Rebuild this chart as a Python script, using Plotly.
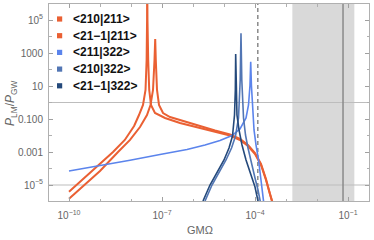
import plotly.graph_objects as go

# ---- data ----
omega_210_211 = [1.0e-10, 3.16e-10, 1.0e-9, 2.63e-9, 6.31e-9, 1.26e-8, 1.81e-8, 2.44e-8, 2.94e-8,
                 3.19e-8, 3.30e-8, 3.32e-8, 3.40e-8, 3.59e-8, 3.87e-8, 4.41e-8, 5.94e-8, 1.25e-7,
                 3.81e-7, 1.68e-6, 5.13e-6, 1.56e-5, 3.28e-5, 5.94e-5, 1.0e-4, 1.56e-4, 2.26e-4,
                 3.05e-4, 3.81e-4]
ratio_210_211 = [3.89e-6, 2.75e-5, 1.91e-4, 1.0e-3, 5.37e-3, 3.8e-2, 0.174, 0.708, 5.73,
                 377, 1.0e5, 1.0e8, 1.0e5, 377, 5.73, 0.708, 0.231, 0.115,
                 0.0573, 0.0285, 0.01746, 0.0100, 5.33e-3, 2.31e-3, 7.58e-4, 1.63e-4, 2.01e-5,
                 2.48e-6, 6.2e-7]

omega_21m1_211 = [1.0e-10, 3.16e-10, 1.0e-9, 3.81e-9, 9.29e-9, 1.95e-8, 3.28e-8, 4.26e-8, 5.13e-8,
                  5.73e-8, 6.04e-8, 6.31e-8, 6.90e-8, 8.0e-8, 1.08e-7, 1.81e-7, 5.52e-7, 1.68e-6,
                  5.13e-6, 1.56e-5, 3.28e-5, 5.94e-5, 1.0e-4, 1.56e-4, 2.26e-4, 3.05e-4, 3.81e-4]
ratio_21m1_211 = [1.48e-6, 1.0e-5, 7.08e-5, 1.0e-3, 5.37e-3, 3.27e-2, 0.174, 0.708, 5.73,
                  377, 7.05e3, 377, 5.73, 0.708, 0.231, 0.132, 0.0705, 0.0351,
                  0.0201, 0.0115, 6.14e-3, 2.65e-3, 8.7e-4, 1.87e-4, 2.31e-5, 2.85e-6, 7.1e-7]

omega_211_322 = [1.0e-10, 1.0e-9, 9.29e-9, 8.61e-8, 6.4e-7, 2.44e-6, 7.43e-6, 1.81e-5, 3.28e-5,
                 5.13e-5, 6.17e-5, 6.90e-5, 7.26e-5, 7.65e-5, 8.3e-5, 9.29e-5, 1.08e-4, 1.30e-4,
                 1.56e-4, 1.81e-4, 1.95e-4]
ratio_211_322 = [7.08e-5, 1.46e-4, 3.14e-4, 7.05e-4, 1.42e-3, 2.65e-3, 4.98e-3, 0.0100, 0.0248,
                 0.115, 0.708, 11.5, 297, 11.5, 0.351, 0.0216, 2.65e-3, 3.27e-4,
                 2.01e-5, 2.48e-6, 6.2e-7]

omega_210_322 = [2.1e-6, 2.44e-6, 4.1e-6, 6.9e-6, 1.16e-5, 1.75e-5, 2.35e-5, 2.94e-5, 3.33e-5,
                 3.53e-5, 3.75e-5, 4.26e-5, 4.94e-5, 5.94e-5, 7.43e-5, 1.0e-4, 1.25e-4, 1.45e-4,
                 1.56e-4]
ratio_210_322 = [6.2e-7, 1.07e-6, 1.0e-5, 6.14e-5, 3.27e-4, 1.75e-3, 9.33e-3, 0.115, 23.1,
                 1.56e4, 23.1, 0.115, 0.0107, 1.75e-3, 2.48e-4, 2.65e-5, 4.98e-6, 1.07e-6,
                 6.2e-7]

omega_21m1_322 = [1.81e-6, 2.1e-6, 3.53e-6, 5.94e-6, 1.0e-5, 1.45e-5, 1.88e-5, 2.18e-5, 2.32e-5,
                  2.38e-5, 2.45e-5, 2.62e-5, 3.05e-5, 3.81e-5, 5.13e-5, 7.43e-5, 1.0e-4, 1.25e-4,
                  1.35e-4]
ratio_21m1_322 = [6.2e-7, 1.07e-6, 1.0e-5, 6.14e-5, 3.27e-4, 1.75e-3, 9.33e-3, 0.175, 5.73,
                  869, 5.73, 0.175, 0.0216, 2.65e-3, 3.27e-4, 4.04e-5, 7.57e-6, 1.07e-6,
                  6.2e-7]

series_names = ["<210|211>", "<21\u22121|211>", "<211|322>", "<210|322>", "<21\u22121|322>"]
series_colors = ["#EA6033", "#EA6033", "#5B84EC", "#5276B4", "#24497B"]

x_tick_vals = [1e-10, 1e-7, 1e-4, 1e-1]
x_tick_text = ["10<sup>\u221210</sup>", "10<sup>\u22127</sup>", "10<sup>\u22124</sup>", "10<sup>\u22121</sup>"]
x_minor_vals = [1e-10, 1e-9, 1e-8, 1e-7, 1e-6, 1e-5, 1e-4, 1e-3, 1e-2, 1e-1]
y_tick_vals = [1e5, 1e3, 1e1, 1e-1, 1e-3, 1e-5]
y_tick_text = ["10<sup>5</sup>", "1000", "10", "0.100", "0.001", "10<sup>\u22125</sup>"]
y_minor_vals = [1e6, 1e4, 1e2, 1e0, 1e-2, 1e-4, 1e-6]

band_lo, band_hi = 1.6e-3, 0.16
dashed_x = 1.23e-4
solid_x = 0.069
hlines_y = [1.0, 1e-5]

# ---- figure ----
fig = go.Figure()
data = [
    (omega_210_211, ratio_210_211, 2.0),
    (omega_21m1_211, ratio_21m1_211, 2.0),
    (omega_211_322, ratio_211_322, 1.6),
    (omega_210_322, ratio_210_322, 1.6),
    (omega_21m1_322, ratio_21m1_322, 1.6),
]
for (xs, ys, w), name, col in zip(data, series_names, series_colors):
    fig.add_trace(go.Scatter(x=xs, y=ys, mode="lines", name=name,
                             line=dict(color=col, width=w), showlegend=False))

L, R, T, B = 49, 5, 4, 39
W, H = 374, 240
pw, ph = W - L - R, H - T - B

def px2paper(px, py):
    return (px - L) / pw, 1 - (py - T) / ph

shapes = [
    dict(type="rect", xref="x", yref="paper", x0=band_lo, x1=band_hi, y0=0, y1=1,
         fillcolor="#d9d9d9", line=dict(width=0), layer="below"),
]
for hy in hlines_y:
    shapes.append(dict(type="line", xref="paper", yref="y", x0=0, x1=1, y0=hy, y1=hy,
                       line=dict(color="#bdbdbd", width=1), layer="below"))
shapes.append(dict(type="line", xref="x", yref="paper", x0=dashed_x, x1=dashed_x, y0=0, y1=1,
                   line=dict(color="#8a8a8a", width=1.5, dash="4px,3px"), layer="below"))
shapes.append(dict(type="line", xref="x", yref="paper", x0=solid_x, x1=solid_x, y0=0, y1=1,
                   line=dict(color="#8a8a8a", width=1.5), layer="below"))

annotations = []
row_y = [19, 35.7, 52.4, 69.1, 85.8]
for name, col, ry in zip(series_names, series_colors, row_y):
    x0, y0 = px2paper(57, ry - 2.6)
    x1, y1 = px2paper(62.2, ry + 2.6)
    shapes.append(dict(type="rect", xref="paper", yref="paper", x0=x0, x1=x1, y0=y1, y1=y0,
                       fillcolor=col, line=dict(width=0), layer="above"))
    tx, ty = px2paper(70.5, ry)
    annotations.append(dict(xref="paper", yref="paper", x=tx, y=ty, xanchor="left", yanchor="middle",
                            text="<b>" + name.replace("<", "&lt;").replace(">", "&gt;") + "</b>",
                            showarrow=False, font=dict(family="Liberation Sans", size=12, color="#111")))

gx, gy = px2paper(199.5, 229.5)
annotations.append(dict(xref="paper", yref="paper", x=gx, y=gy, xanchor="center", yanchor="middle",
                        text="GM\u03a9", showarrow=False,
                        font=dict(family="Liberation Sans", size=11, color="#666")))
ax_, ay_ = px2paper(11, 103)
annotations.append(dict(xref="paper", yref="paper", x=ax_, y=ay_, xanchor="center", yanchor="middle",
                        textangle=-90,
                        text="<i>P</i><sub>LM</sub>/<i>P</i><sub>GW</sub>", showarrow=False,
                        font=dict(family="Liberation Sans", size=12, color="#666")))

axis_common = dict(type="log", showgrid=False, zeroline=False, showline=True, linecolor="#b0b0b0",
                   linewidth=1, mirror="allticks", ticks="inside", ticklen=4, tickcolor="#a0a0a0",
                   tickfont=dict(family="Liberation Sans", size=10, color="#666"))

fig.update_layout(
    width=W, height=H, margin=dict(l=L, r=R, t=T, b=B),
    paper_bgcolor="white", plot_bgcolor="white",
    xaxis=dict(range=[-10.645, -0.323], tickvals=x_tick_vals, ticktext=x_tick_text,
               minor=dict(tickvals=x_minor_vals, ticklen=2.5, ticks="inside", tickcolor="#b0b0b0"),
               ticklabelstandoff=5, **axis_common),
    yaxis=dict(range=[-5.97, 5.97], tickvals=y_tick_vals, ticktext=y_tick_text,
               minor=dict(tickvals=y_minor_vals, ticklen=2.5, ticks="inside", tickcolor="#b0b0b0"),
               ticklabelstandoff=3, **axis_common),
    shapes=shapes, annotations=annotations, showlegend=False,
)

fig.write_html("out.html", config={"displayModeBar": False},
               post_script="document.body.style.margin='0';document.body.style.padding='0';"
                           "document.documentElement.style.overflow='hidden';")
